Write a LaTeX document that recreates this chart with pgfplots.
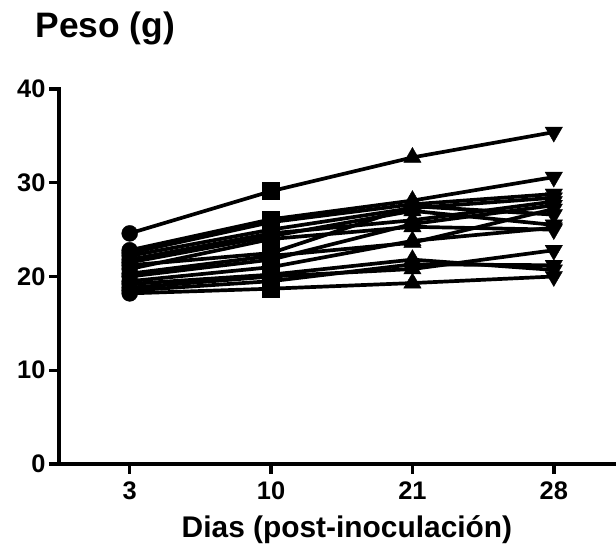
\documentclass[border=0pt]{standalone}
\usepackage{fontspec}
\setmainfont{Liberation Sans}
\usepackage{pgfplots}
\usepackage{pgfplotstable}
\pgfplotsset{compat=1.18}

% body weight (g) per animal; rows = sampling day, columns = animals
\pgfplotstableread{
x cls a1 a2 a3 a4 a5 a6 a7 a8 a9 a10 a11 a12 a13 a14 a15
0 a 24.6 22.8 22.5 22.2 21.8 21.5 21.2 20.8 20.3 20.0 19.5 19.2 18.8 18.5 18.2
1 b 29.1 26.1 25.8 25.0 24.6 24.3 22.5 24.0 22.2 21.8 21.0 20.2 20.0 19.5 18.7
2 c 32.7 28.1 27.7 27.3 26.0 27.0 27.5 25.3 23.6 25.6 23.8 21.8 20.8 21.3 19.3
3 d 35.4 30.6 28.8 28.4 28.0 25.5 26.6 25.0 27.2 27.6 25.2 20.7 22.8 21.2 20.0
}\weights

% filled downward triangle
\pgfdeclareplotmark{dtri*}{%
  \pgfpathmoveto{\pgfqpoint{0pt}{-\pgfplotmarksize}}%
  \pgfpathlineto{\pgfqpointpolar{30}{\pgfplotmarksize}}%
  \pgfpathlineto{\pgfqpointpolar{150}{\pgfplotmarksize}}%
  \pgfpathclose
  \pgfusepathqfillstroke}

\begin{document}
\begin{tikzpicture}
\begin{axis}[
  scale only axis,
  width=557bp, height=375bp,
  anchor=south west, at={(59bp,86bp)},
  xmin=-0.5, xmax=3.44,
  ymin=0, ymax=40,
  axis x line=bottom, axis y line=left,
  axis line style={-, line width=3.4bp, line cap=rect},
  every tick/.style={black, line width=3.4bp},
  tick align=outside,
  major tick length=10bp,
  xtick={0,1,2,3}, xticklabels={3,10,21,28},
  ytick={0,10,20,30,40},
  /pgf/number format/assume math mode=true,
  tick label style={font=\fontsize{25.5}{30}\selectfont\bfseries},
  xticklabel style={yshift=-4bp},
  xlabel={Dias (post-inoculación)},
  xlabel style={font=\fontsize{30}{36}\selectfont\bfseries,
    at={(rel axis cs:0.517,-0.197)}, anchor=base},
  title={Peso (g)},
  title style={font=\fontsize{35.5}{42}\selectfont\bfseries,
    at={(rel axis cs:-0.0485,1.1227)}, anchor=base west},
  clip=false,
]
\pgfplotsinvokeforeach{1,...,15}{
  \addplot[black, line width=3.7bp,
    scatter, scatter src=explicit symbolic,
    scatter/classes={
      a={mark=*, mark size=8bp, black},
      b={mark=square*, mark size=8.5bp, black},
      c={mark=triangle*, mark size=10bp, black},
      d={mark=dtri*, mark size=10bp, black}},
    mark options={solid, line width=0.4bp, fill=black, draw=black}]
    table[x=x, y=a#1, meta=cls] {\weights};
}
\end{axis}
\pgfresetboundingbox
\path[use as bounding box] (0,0) rectangle (616bp,550bp);
\end{tikzpicture}
\end{document}
